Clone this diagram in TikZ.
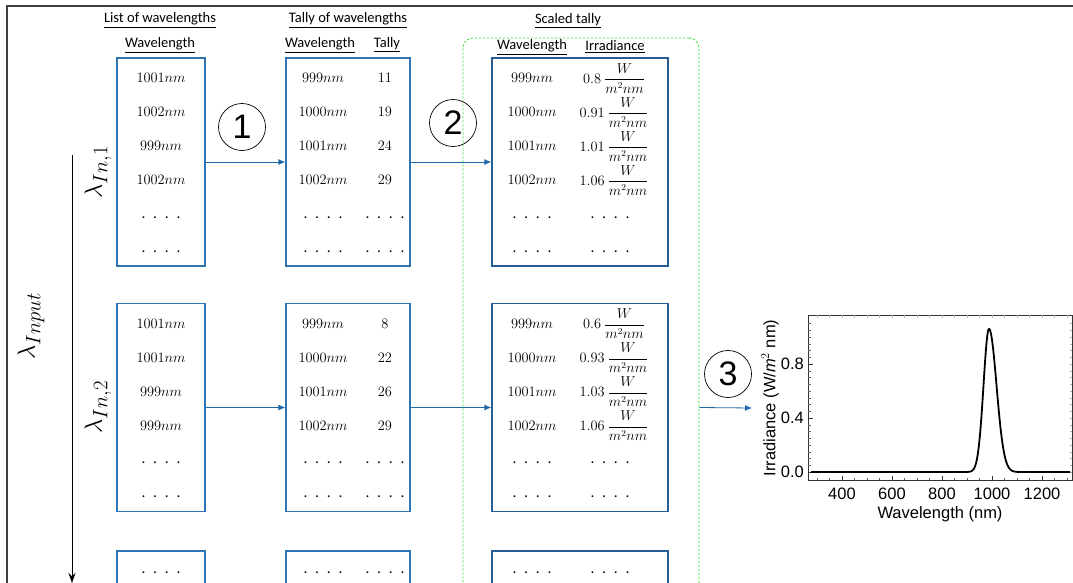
\documentclass[tikz,border=0pt]{standalone}
\usepackage{amsmath,amssymb}
\usepackage{fontspec}
\setmainfont{Carlito}
\newfontfamily\plotfont{Liberation Sans}
\usetikzlibrary{arrows.meta,positioning,calc}
\definecolor{boxblue}{RGB}{46,117,182}
\definecolor{flowblue}{RGB}{31,105,170}
\definecolor{tallygreen}{RGB}{40,225,40}
\definecolor{framegray}{RGB}{64,64,64}

\begin{document}
\begin{tikzpicture}[x=1pt,y=-1pt,
  tablebox/.style={draw=boxblue, line width=1.3pt, minimum height=208pt, inner sep=0pt},
  flow/.style={draw=flowblue, line width=0.8pt, -{Latex[length=7pt,width=6pt]}},
  entry/.style={font=\fontsize{15.5}{17}\selectfont, inner sep=0pt},
  head/.style={font=\fontsize{14.5}{16}\selectfont, inner sep=1pt},
  stepnum/.style={circle, draw, line width=0.7pt, minimum size=47pt, inner sep=0pt, font=\plotfont\fontsize{34}{36}\selectfont},
  lam/.style={rotate=90, font=\fontsize{28}{32}\selectfont},
  axisnum/.style={font=\plotfont\fontsize{16.5}{18}\selectfont, inner sep=1pt}]
\useasboundingbox (0,0) rectangle (1073,583);
\clip (0,0) rectangle (1073,583);
\draw[framegray, line width=1.5pt] (7,6) rectangle (1100,620);

% scaled tally region
\node[draw=tallygreen, line width=0.8pt, dash pattern=on 2pt off 2pt, rounded corners=10pt,
  minimum width=236pt, minimum height=602pt] (scaled) at (581,339) {};

% boxes, three rows
\foreach \r/\yc in {1/162,2/407.5,3/655} {
  \node[tablebox, minimum width=88pt] (L\r) at (161,\yc) {};
  \node[tablebox, minimum width=124pt] (T\r) at (348,\yc) {};
  \node[tablebox, minimum width=176pt, draw=boxblue!80!black] (S\r) at (580,\yc) {};
}

% headers
\node[head] (hlist) at (160,20) {\underline{List of wavelengths}};
\node[head] at (160,45) {\underline{Wavelength}};
\node[head] (htally) at (348,20) {\underline{Tally of wavelengths}};
\node[head] at (320,45) {\underline{Wavelength}};
\node[head] at (387,45) {\underline{Tally}};
\node[head] (hscaled) at (568,21) {\underline{Scaled tally}};
\node[head] at (532,47) {\underline{Wavelength}};
\node[head] at (615,47) {\underline{Irradiance}};

% entries
\foreach \k/\v in {1/1001,2/1002,3/999,4/1002}
  \node[entry] at ($(L1.north)+(0,{34*\k-13})$) {$\v nm$};
\foreach \k/\v in {1/1001,2/1001,3/999,4/999}
  \node[entry] at ($(L2.north)+(0,{34*\k-13})$) {$\v nm$};
\foreach \k/\v/\n in {1/999/11,2/1000/19,3/1001/24,4/1002/29} {
  \node[entry] at ($(T1.north)+(-25,{34*\k-13})$) {$\v nm$};
  \node[entry] at ($(T1.north)+(37,{34*\k-13})$) {$\n$};
}
\foreach \k/\v/\n in {1/999/8,2/1000/22,3/1001/26,4/1002/29} {
  \node[entry] at ($(T2.north)+(-25,{34*\k-13})$) {$\v nm$};
  \node[entry] at ($(T2.north)+(37,{34*\k-13})$) {$\n$};
}
\foreach \k/\v/\n in {1/999/0.8,2/1000/0.91,3/1001/1.01,4/1002/1.06} {
  \node[entry] at ($(S1.north)+(-48,{34*\k-13})$) {$\v nm$};
  \node[entry, font=\fontsize{13.5}{15}\selectfont] at ($(S1.north)+(34,{34*\k-13})$) {$\n\ \dfrac{W}{m^2nm}$};
}
\foreach \k/\v/\n in {1/999/0.6,2/1000/0.93,3/1001/1.03,4/1002/1.06} {
  \node[entry] at ($(S2.north)+(-48,{34*\k-13})$) {$\v nm$};
  \node[entry, font=\fontsize{13.5}{15}\selectfont] at ($(S2.north)+(34,{34*\k-13})$) {$\n\ \dfrac{W}{m^2nm}$};
}

% dotted rows
\foreach \r/\dys in {1/{160,194},2/{160,194},3/{22}} {
  \foreach \dy in \dys {
    \node[entry] at ($(L\r.north)+(0,\dy)$) {.\enspace.\enspace.\enspace.};
    \node[entry] at ($(T\r.north)+(-25,\dy)$) {.\enspace.\enspace.\enspace.};
    \node[entry] at ($(T\r.north)+(37,\dy)$) {.\enspace.\enspace.\enspace.};
    \node[entry] at ($(S\r.north)+(-48,\dy)$) {.\enspace.\enspace.\enspace.};
    \node[entry] at ($(S\r.north)+(30,\dy)$) {.\enspace.\enspace.\enspace.};
  }
}

% steps
\node[stepnum] (n1) at (242,127) {1};
\node[stepnum] (n2) at (453,123) {2};
\node[stepnum] (n3) at (728,374) {3};
\foreach \r in {1,2} {
  \draw[flow] (L\r.east) -- (T\r.west);
  \draw[flow] (T\r.east) -- (S\r.west);
}
\coordinate (plotin) at (752,408);
\draw[flow] (S2.east -| scaled.east) -- (plotin);

% input direction
\coordinate (inTop) at (72,155);
\coordinate (inBot) at (72,583);
\draw[line width=0.8pt, -{Stealth[length=10pt,width=7pt]}] (inTop) -- (inBot);
\node[lam] (lam1) at (98,172) {$\lambda_{In,1}$};
\node[lam] (lam2) at (98,407) {$\lambda_{In,2}$};
\node[lam] (laminput) at (31,326) {$\lambda_{Input}$};

% spectrum
\draw[black!80, line width=0.6pt] (808,315) rectangle (1072,480);
\foreach \w in {300,350,...,1300} {
  \draw[black!60, line width=0.4pt] ({842+(\w-400)/4},480) -- ++(0,-2.5);
  \draw[black!30, line width=0.4pt] ({842+(\w-400)/4},315) -- ++(0,2.5);
}
\foreach \w in {400,600,...,1200} {
  \draw[black!80, line width=0.5pt] ({842+(\w-400)/4},480) -- ++(0,-4.5);
  \node[axisnum] at ({842+(\w-400)/4},494) {\w};
}
\foreach \v in {0,0.05,...,1.15} {
  \draw[black!60, line width=0.4pt] (808,{472-135*\v}) -- ++(2.5,0);
  \draw[black!30, line width=0.4pt] (1072,{472-135*\v}) -- ++(-2.5,0);
}
\foreach \v/\l in {0/0.0,0.4/0.4,0.8/0.8} {
  \draw[black!80, line width=0.5pt] (808,{472-135*\v}) -- ++(4.5,0);
  \node[axisnum, anchor=east] at (805,{472-135*\v}) {\l};
}
\node[axisnum] (xlab) at (940,514) {Wavelength (nm)};
\node[axisnum, rotate=90] (ylab) at (770,398) {Irradiance (W/\textit{m}$^{2}$ nm)};
\draw[line width=1.8pt, line join=round]
  (811,472) -- (962,472)
  -- plot[domain=880:988, samples=60] ({842+(\x-400)/4},{472-135*1.06*exp(-((\x-988)/22)^2/2)})
  -- plot[domain=988:1130, samples=60] ({842+(\x-400)/4},{472-135*1.06*exp(-((\x-988)/30)^2/2)})
  -- (1070,472);
\end{tikzpicture}
\end{document}
